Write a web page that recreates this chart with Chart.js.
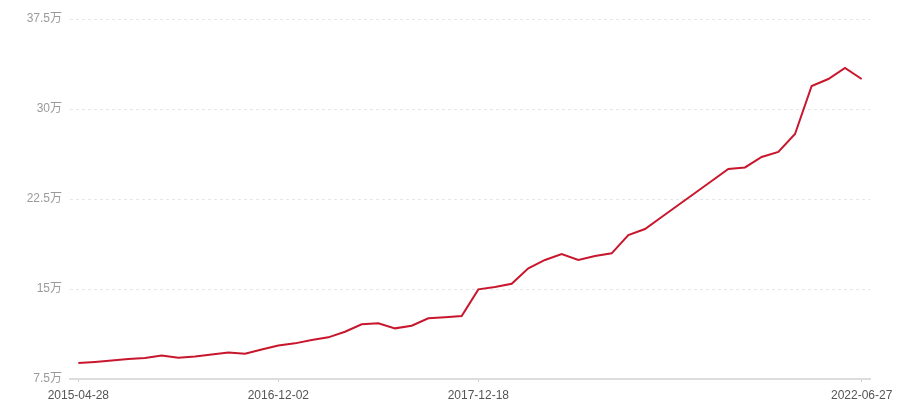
<!DOCTYPE html>
<html>
<head>
<meta charset="utf-8">
<script src="https://cdn.jsdelivr.net/npm/chart.js@4"></script>
<style>
  html, body { margin: 0; padding: 0; background: #fff; }
  #wrap { width: 900px; height: 400px; }
</style>
</head>
<body>
<div id="wrap"><canvas id="price" width="900" height="400"></canvas></div>
<script>
// 48 points, only some dates are printed on the axis
const dates = [
    '2015-04-28', '', '', '', '', '', '', '', '', '', '', '',
    '2016-12-02', '', '', '', '', '', '', '', '', '', '', '',
    '2017-12-18', '', '', '', '', '', '', '', '', '', '', '',
    '', '', '', '', '', '', '', '', '', '', '', '2022-06-27'
];

// values in 万
const prices = [
    8.83, 8.92, 9.04, 9.17, 9.25, 9.46, 9.28, 9.38, 9.54, 9.71, 9.6, 9.96,
    10.29, 10.47, 10.75, 10.97, 11.44, 12.06, 12.14, 11.72, 11.94, 12.56, 12.64, 12.75,
    14.97, 15.17, 15.44, 16.72, 17.42, 17.92, 17.42, 17.75, 17.97, 19.5, 20.0, 21.0,
    22.0, 23.0, 24.0, 25.0, 25.13, 26.0, 26.42, 27.92, 31.92, 32.5, 33.42, 32.5
];

const yTicks = [7.5, 15, 22.5, 30, 37.5];

const fontFamily = "'Liberation Sans', 'Noto Sans CJK SC', sans-serif";

var ctx = document.getElementById('price').getContext('2d');
var price = new Chart(ctx, {
    type: 'line',
    data: {
        labels: dates,
        datasets: [{
            label: 'price',
            data: prices,
            borderColor: '#c8172d',
            borderWidth: 2,
            pointRadius: 0,
            tension: 0,
            fill: false
        }]
    },
    options: {
        responsive: false,
        animation: false,
        layout: {
            padding: { top: 19, right: 30, left: 0, bottom: 0 }
        },
        plugins: {
            legend: { display: false },
            tooltip: { enabled: false }
        },
        scales: {
            x: {
                type: 'category',
                offset: true,
                afterFit: function (scale) { scale.height = 21; },
                border: { display: true, color: '#dcdcdc', width: 2 },
                grid: {
                    drawOnChartArea: false,
                    drawTicks: true,
                    tickLength: 3,
                    color: (c) => (c.tick && c.tick.label) ? '#cccccc' : 'rgba(0,0,0,0)'
                },
                ticks: {
                    autoSkip: false,
                    maxRotation: 0,
                    padding: 6,
                    color: '#555555',
                    font: { family: fontFamily, size: 12 },
                    callback: function (val, i) { return dates[i]; }
                }
            },
            y: {
                min: 7.5,
                max: 37.5,
                afterFit: function (scale) { scale.width = 70; },
                afterBuildTicks: function (scale) {
                    scale.ticks = yTicks.map(v => ({ value: v }));
                },
                border: { display: false, dash: [3, 3] },
                grid: {
                    drawTicks: false,
                    color: (c) => c.tick && c.tick.value === 7.5 ? 'rgba(0,0,0,0)' : '#e6e6e6',
                    lineWidth: 1
                },
                ticks: {
                    padding: 8,
                    color: '#9a9a9a',
                    font: { family: fontFamily, size: 12 },
                    callback: function (v) { return v + '万'; }
                }
            }
        }
    }
});
</script>
</body>
</html>
